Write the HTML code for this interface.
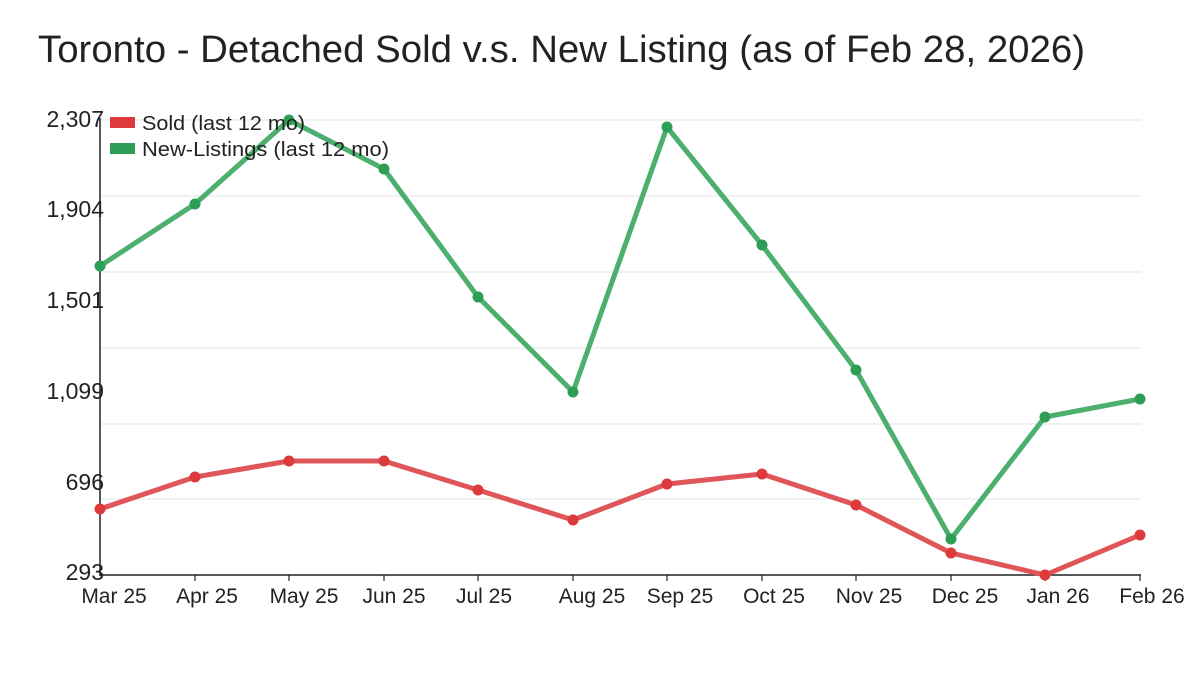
<!DOCTYPE html>
<html><head><meta charset="utf-8"><style>body{margin:0;background:#fff}svg{display:block}text{font-family:"Liberation Sans","DejaVu Sans",sans-serif;fill:#222}</style></head>
<body><svg width="1200" height="675" viewBox="0 0 1200 675">
<text x="38" y="62" font-size="38" textLength="1047" lengthAdjust="spacingAndGlyphs">Toronto - Detached Sold v.s. New Listing (as of Feb 28, 2026)</text>
<g stroke="#e3e3e3" stroke-width="1">
<line x1="100" x2="1141" y1="120" y2="120"/><line x1="100" x2="1141" y1="196" y2="196"/><line x1="100" x2="1141" y1="272" y2="272"/><line x1="100" x2="1141" y1="348" y2="348"/><line x1="100" x2="1141" y1="424" y2="424"/><line x1="100" x2="1141" y1="499" y2="499"/>
</g>
<line x1="100" y1="118" x2="100" y2="576" stroke="#222" stroke-width="1.5"/>
<line x1="100" y1="575" x2="1141" y2="575" stroke="#222" stroke-width="1.5"/>
<g stroke="#222" stroke-width="1.2">
<line x1="195" x2="195" y1="575" y2="581"/><line x1="289" x2="289" y1="575" y2="581"/><line x1="384" x2="384" y1="575" y2="581"/><line x1="478" x2="478" y1="575" y2="581"/><line x1="573" x2="573" y1="575" y2="581"/><line x1="667" x2="667" y1="575" y2="581"/><line x1="762" x2="762" y1="575" y2="581"/><line x1="856" x2="856" y1="575" y2="581"/><line x1="951" x2="951" y1="575" y2="581"/><line x1="1045" x2="1045" y1="575" y2="581"/><line x1="1140" x2="1140" y1="575" y2="581"/>
</g>
<g font-size="23" text-anchor="end">
<text x="104" y="127">2,307</text><text x="104" y="217">1,904</text><text x="104" y="308">1,501</text><text x="104" y="399">1,099</text><text x="104" y="490">696</text><text x="104" y="580">293</text>
</g>
<g font-size="21" text-anchor="middle">
<text x="114" y="603">Mar 25</text><text x="207" y="603">Apr 25</text><text x="304" y="603">May 25</text><text x="394" y="603">Jun 25</text><text x="484" y="603">Jul 25</text><text x="592" y="603">Aug 25</text><text x="680" y="603">Sep 25</text><text x="774" y="603">Oct 25</text><text x="869" y="603">Nov 25</text><text x="965" y="603">Dec 25</text><text x="1058" y="603">Jan 26</text><text x="1152" y="603">Feb 26</text>
</g>
<polyline fill="none" stroke="#4caf6e" stroke-width="5" stroke-linejoin="round" points="100,266 195,204 289,120 384,169 478,297 573,392 667,127 762,245 856,370 951,539 1045,417 1140,399"/>
<g fill="#2e9d55"><circle cx="100" cy="266" r="5.5"/><circle cx="195" cy="204" r="5.5"/><circle cx="289" cy="120" r="5.5"/><circle cx="384" cy="169" r="5.5"/><circle cx="478" cy="297" r="5.5"/><circle cx="573" cy="392" r="5.5"/><circle cx="667" cy="127" r="5.5"/><circle cx="762" cy="245" r="5.5"/><circle cx="856" cy="370" r="5.5"/><circle cx="951" cy="539" r="5.5"/><circle cx="1045" cy="417" r="5.5"/><circle cx="1140" cy="399" r="5.5"/></g>
<polyline fill="none" stroke="#e05558" stroke-width="5" stroke-linejoin="round" points="100,509 195,477 289,461 384,461 478,490 573,520 667,484 762,474 856,505 951,553 1045,575 1140,535"/>
<g fill="#dc3a3d"><circle cx="100" cy="509" r="5.5"/><circle cx="195" cy="477" r="5.5"/><circle cx="289" cy="461" r="5.5"/><circle cx="384" cy="461" r="5.5"/><circle cx="478" cy="490" r="5.5"/><circle cx="573" cy="520" r="5.5"/><circle cx="667" cy="484" r="5.5"/><circle cx="762" cy="474" r="5.5"/><circle cx="856" cy="505" r="5.5"/><circle cx="951" cy="553" r="5.5"/><circle cx="1045" cy="575" r="5.5"/><circle cx="1140" cy="535" r="5.5"/></g>
<rect x="110" y="117" width="25" height="11" fill="#dc3a3d"/>
<rect x="110" y="143" width="25" height="11" fill="#2e9d55"/>
<g font-size="20"><text x="142" y="130" textLength="163" lengthAdjust="spacingAndGlyphs">Sold (last 12 mo)</text><text x="142" y="156" textLength="247" lengthAdjust="spacingAndGlyphs">New-Listings (last 12 mo)</text></g>
</svg></body></html>
